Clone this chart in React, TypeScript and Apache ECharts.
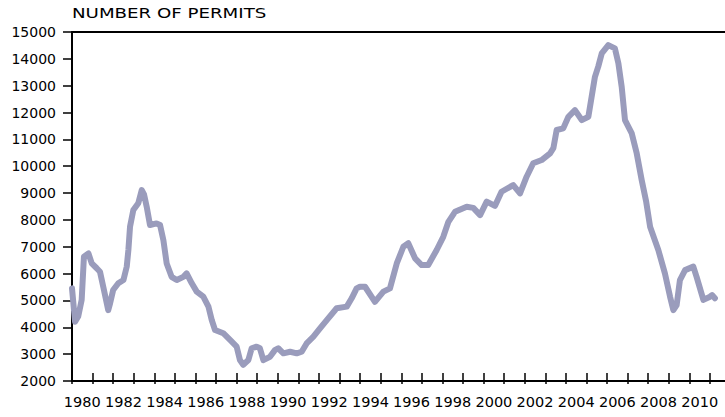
import React, { useEffect, useRef } from 'react';
import * as echarts from 'echarts';

const TITLE = 'NUMBER OF PERMITS';

// decimal year of each reading
const dates = [
  1980.0, 1980.15, 1980.3, 1980.47, 1980.58, 1980.8, 1980.96, 1981.2, 1981.36, 1981.52,
  1981.76, 1981.85, 1982.0, 1982.25, 1982.5, 1982.66, 1982.74, 1982.82, 1982.98, 1983.22,
  1983.39, 1983.5, 1983.63, 1983.79, 1984.11, 1984.28, 1984.44, 1984.6, 1984.84, 1985.09,
  1985.41, 1985.57, 1985.82, 1986.06, 1986.38, 1986.63, 1986.79, 1986.95, 1987.35, 1987.68,
  1988.0, 1988.16, 1988.32, 1988.57, 1988.73, 1988.97, 1989.13, 1989.3, 1989.62, 1989.86,
  1990.02, 1990.27, 1990.6, 1990.92, 1991.16, 1991.4, 1991.73, 1992.05, 1992.38, 1992.86,
  1993.35, 1993.59, 1993.83, 1993.99, 1994.24, 1994.72, 1995.13, 1995.45, 1995.78, 1996.1,
  1996.34, 1996.67, 1996.99, 1997.31, 1997.72, 1998.04, 1998.29, 1998.61, 1999.18, 1999.5,
  1999.83, 2000.15, 2000.55, 2000.87, 2001.44, 2001.77, 2002.09, 2002.41, 2002.82, 2003.23,
  2003.39, 2003.55, 2003.87, 2004.12, 2004.44, 2004.77, 2005.09, 2005.25, 2005.41, 2005.57,
  2005.74, 2006.06, 2006.38, 2006.55, 2006.71, 2006.87, 2007.2, 2007.44, 2007.68, 2007.9,
  2008.09, 2008.49, 2008.81, 2009.06, 2009.22, 2009.38, 2009.54, 2009.79, 2010.19, 2010.35,
  2010.68, 2011.0, 2011.1, 2011.24,
];

const permits = [
  5450, 4210, 4400, 5020, 6630, 6750, 6380, 6200, 6070, 5510,
  4640, 4890, 5390, 5640, 5760, 6260, 6880, 7750, 8370, 8620,
  9110, 8950, 8490, 7810, 7870, 7810, 7250, 6380, 5880, 5760,
  5880, 6010, 5640, 5330, 5140, 4770, 4270, 3900, 3780, 3530,
  3280, 2780, 2600, 2780, 3220, 3280, 3220, 2780, 2900, 3150,
  3220, 3030, 3090, 3030, 3090, 3400, 3650, 3960, 4270, 4710,
  4770, 5080, 5450, 5510, 5510, 4950, 5330, 5450, 6380, 7000,
  7130, 6570, 6320, 6320, 6880, 7370, 7930, 8300, 8490, 8450,
  8180, 8680, 8520, 9050, 9300, 8990, 9610, 10110, 10230, 10480,
  10670, 11350, 11410, 11840, 12090, 11720, 11840, 12590, 13330, 13710,
  14200, 14510, 14390, 13830, 12960, 11720, 11220, 10480, 9490, 8680,
  7750, 6880, 6010, 5140, 4640, 4830, 5760, 6130, 6260, 5880,
  5020, 5140, 5200, 5080,
];

const tickYears = [
  1980, 1981, 1982, 1983, 1984, 1985, 1986, 1987, 1988, 1989, 1990, 1991, 1992, 1993, 1994, 1995,
  1996, 1997, 1998, 1999, 2000, 2001, 2002, 2003, 2004, 2005, 2006, 2007, 2008, 2009, 2010, 2011,
];
const labelYears = [
  1980, 1982, 1984, 1986, 1988, 1990, 1992, 1994, 1996, 1998, 2000, 2002, 2004, 2006, 2008, 2010,
];

const X_MIN = 1980;
const X_MAX = 2011.73;
const FONT = 'DejaVu Sans';

export default function App() {
  const ref = useRef<HTMLDivElement>(null);
  useEffect(() => {
    if (!ref.current) return;
    const chart = echarts.init(ref.current, undefined, { renderer: 'svg' });
    const axisLine = { show: true, onZero: false, lineStyle: { color: '#000', width: 2 } };
    chart.setOption({
      animation: false,
      backgroundColor: '#fff',
      grid: { left: 72, right: 0, top: 32, bottom: 36, containLabel: false },
      graphic: [
        {
          type: 'text',
          x: 72,
          y: 6,
          scaleX: 1.3,
          style: {
            text: TITLE,
            fill: '#000',
            font: `14px "${FONT}"`,
            textVerticalAlign: 'top',
          },
        },
      ],
      xAxis: [
        {
          type: 'value',
          min: X_MIN,
          max: X_MAX,
          position: 'bottom',
          axisLine,
          axisTick: {
            show: true,
            inside: true,
            length: 8,
            customValues: tickYears,
            lineStyle: { color: '#000', width: 1.5 },
          },
          axisLabel: {
            show: true,
            customValues: labelYears.map((y) => y + 0.5),
            formatter: (v: number) => String(Math.floor(v)),
            margin: 13,
            fontFamily: FONT,
            fontSize: 14.5,
            color: '#000',
          },
          splitLine: { show: false },
        },
        {
          type: 'value',
          min: X_MIN,
          max: X_MAX,
          position: 'bottom',
          axisLine: { show: false },
          axisTick: {
            show: true,
            inside: false,
            length: 3,
            customValues: tickYears,
            lineStyle: { color: '#000', width: 1.5 },
          },
          axisLabel: { show: false },
          splitLine: { show: false },
        },
        {
          type: 'value',
          min: X_MIN,
          max: X_MAX,
          position: 'top',
          axisLine,
          axisTick: { show: false },
          axisLabel: { show: false },
          splitLine: { show: false },
        },
      ],
      yAxis: {
        type: 'value',
        min: 2000,
        max: 15000,
        interval: 1000,
        axisLine,
        axisTick: { show: true, length: 9, lineStyle: { color: '#000', width: 1.5 } },
        axisLabel: {
          margin: 16,
          fontFamily: FONT,
          fontSize: 14,
          color: '#000',
          formatter: (v: number) => String(v),
        },
        splitLine: { show: false },
      },
      series: [
        {
          type: 'line',
          xAxisIndex: 0,
          data: dates.map((d, i) => [d, permits[i]]),
          showSymbol: false,
          clip: false,
          lineStyle: { color: '#9a9cbc', width: 6, join: 'round', cap: 'round' },
        },
      ],
    });
    return () => chart.dispose();
  }, []);
  return (
    <div
      ref={ref}
      style={{ position: 'absolute', left: 0, top: 0, width: 725, height: 417 }}
    />
  );
}
